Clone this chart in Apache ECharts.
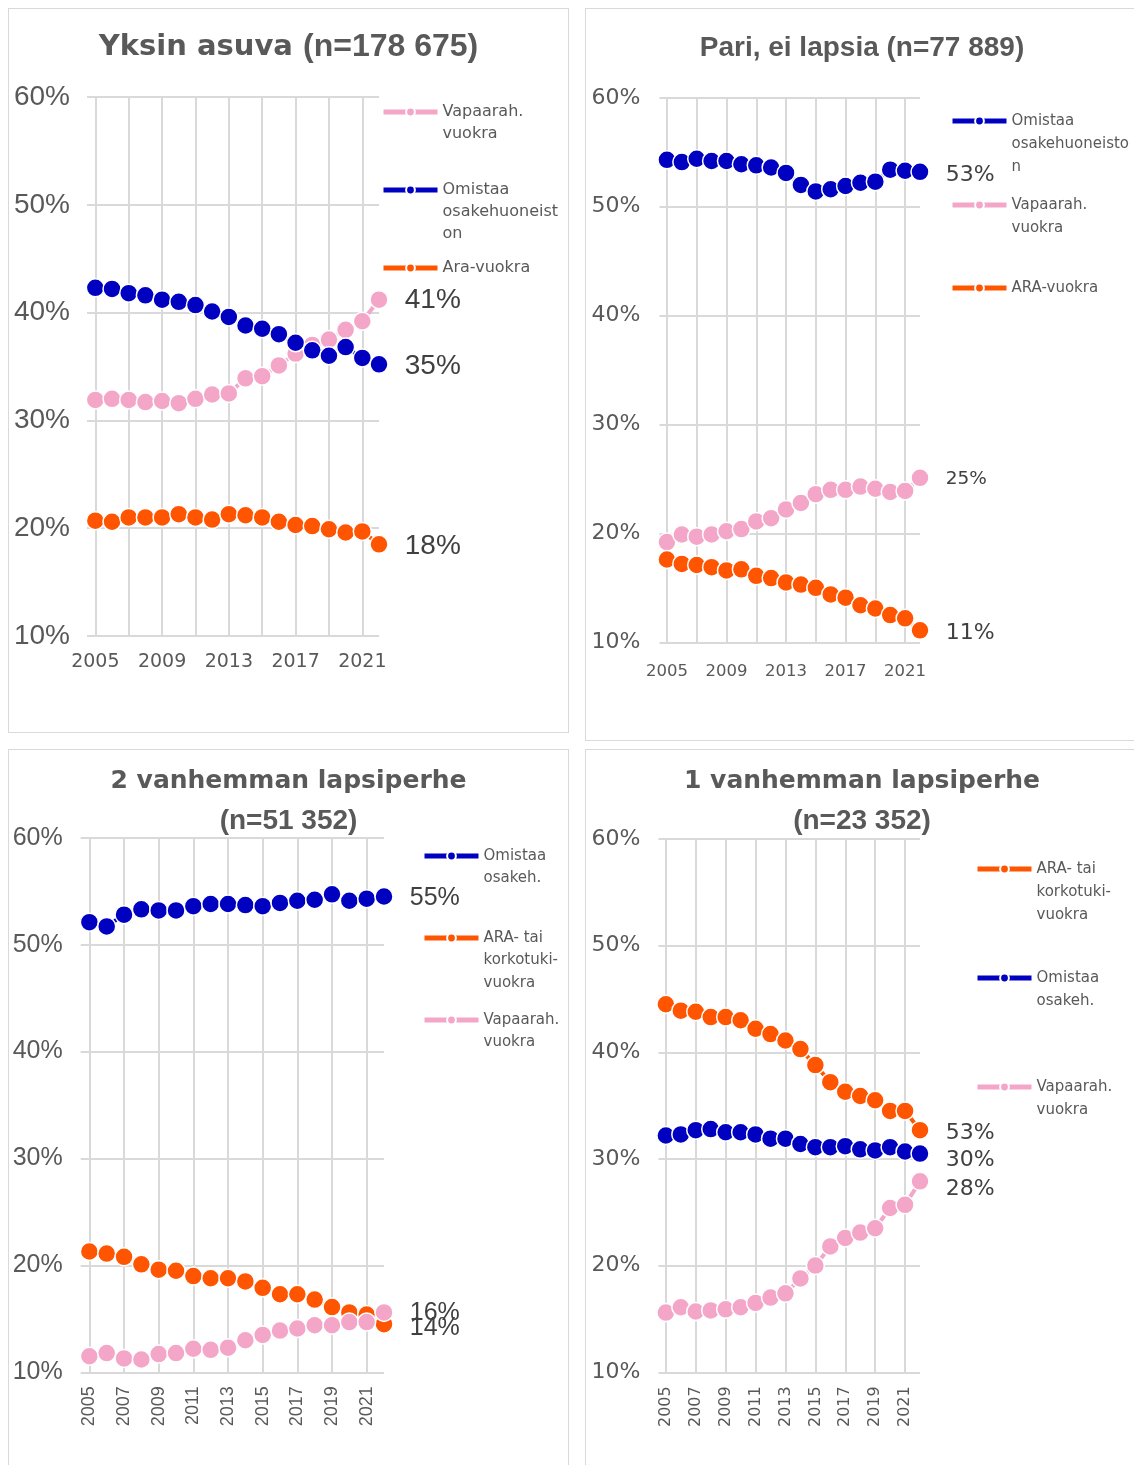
<!DOCTYPE html>
<html>
<head>
<meta charset="utf-8">
<script src="https://cdn.jsdelivr.net/npm/echarts@6/dist/echarts.min.js"></script>
<style>
  html, body { margin: 0; padding: 0; background: #fff; overflow: hidden; }
  body { width: 1134px; height: 1465px; position: relative; }
  .panel { position: absolute; outline: 1px solid #d9d9d9; outline-offset: -1px; }
</style>
</head>
<body>
<div id="p1" class="panel" style="left:8px;top:8px;width:561px;height:725px"></div>
<div id="p2" class="panel" style="left:585px;top:8px;width:554px;height:733px"></div>
<div id="p3" class="panel" style="left:8px;top:749px;width:561px;height:730px"></div>
<div id="p4" class="panel" style="left:585px;top:749px;width:554px;height:730px"></div>
<script>
// vuodet ja akselit
var years = [2005, 2006, 2007, 2008, 2009, 2010, 2011, 2012, 2013, 2014, 2015, 2016, 2017, 2018, 2019, 2020, 2021, 2022];
var gridYears = [2005, 2007, 2009, 2011, 2013, 2015, 2017, 2019, 2021];
var wideLabelYears = [2005, 2009, 2013, 2017, 2021];

// Yksin asuva
var p1Vapaa = [31.9, 32.0, 31.9, 31.7, 31.8, 31.6, 32.0, 32.4, 32.5, 33.9, 34.1, 35.1, 36.2, 37.0, 37.5, 38.4, 39.2, 41.2];
var p1Omistaa = [42.3, 42.2, 41.8, 41.6, 41.2, 41.0, 40.7, 40.1, 39.6, 38.8, 38.5, 38.0, 37.2, 36.5, 36.0, 36.8, 35.8, 35.2];
var p1Ara = [20.7, 20.6, 21.0, 21.0, 21.0, 21.3, 21.0, 20.8, 21.3, 21.2, 21.0, 20.6, 20.3, 20.2, 19.9, 19.6, 19.7, 18.5];
var p1Legend = ['Vapaarah.\nvuokra', 'Omistaa\nosakehuoneist\non', 'Ara-vuokra'];
var p1End = ['41%', '35%', '18%'];

// Pari, ei lapsia
var p2Omistaa = [54.3, 54.1, 54.4, 54.2, 54.2, 53.9, 53.8, 53.6, 53.1, 52.0, 51.4, 51.6, 51.9, 52.2, 52.3, 53.4, 53.3, 53.2];
var p2Vapaa = [19.2, 19.9, 19.7, 19.9, 20.2, 20.4, 21.1, 21.4, 22.2, 22.8, 23.6, 24.0, 24.0, 24.3, 24.1, 23.8, 23.9, 25.1];
var p2Ara = [17.6, 17.2, 17.1, 16.9, 16.6, 16.7, 16.1, 15.9, 15.5, 15.3, 15.0, 14.4, 14.1, 13.4, 13.1, 12.5, 12.2, 11.1];
var p2Legend = ['Omistaa\nosakehuoneisto\nn', 'Vapaarah.\nvuokra', 'ARA-vuokra'];
var p2End = ['53%', '25%', '11%'];

// 2 vanhemman lapsiperhe
var p3Omistaa = [52.1, 51.7, 52.8, 53.3, 53.2, 53.2, 53.6, 53.8, 53.8, 53.7, 53.6, 53.9, 54.1, 54.2, 54.7, 54.1, 54.3, 54.5];
var p3Ara = [21.3, 21.1, 20.8, 20.1, 19.6, 19.5, 19.0, 18.8, 18.8, 18.5, 17.9, 17.3, 17.3, 16.8, 16.1, 15.6, 15.4, 14.5];
var p3Vapaa = [11.5, 11.8, 11.3, 11.2, 11.7, 11.8, 12.2, 12.1, 12.3, 13.0, 13.5, 13.9, 14.1, 14.4, 14.4, 14.7, 14.7, 15.6];
var p3Legend = ['Omistaa\nosakeh.', 'ARA- tai\nkorkotuki-\nvuokra', 'Vapaarah.\nvuokra'];
var p3End = ['55%', '14%', '16%'];

// 1 vanhemman lapsiperhe
var p4Ara = [44.5, 43.9, 43.8, 43.3, 43.3, 43.0, 42.2, 41.7, 41.1, 40.3, 38.8, 37.2, 36.3, 35.9, 35.5, 34.5, 34.5, 32.7];
var p4Omistaa = [32.2, 32.3, 32.7, 32.8, 32.5, 32.5, 32.3, 31.9, 31.9, 31.4, 31.1, 31.1, 31.2, 30.9, 30.8, 31.1, 30.7, 30.5];
var p4Vapaa = [15.6, 16.1, 15.7, 15.8, 15.9, 16.1, 16.5, 17.0, 17.4, 18.8, 20.0, 21.8, 22.6, 23.1, 23.5, 25.4, 25.7, 27.9];
var p4Legend = ['ARA- tai\nkorkotuki-\nvuokra', 'Omistaa\nosakeh.', 'Vapaarah.\nvuokra'];
var p4End = ['53%', '30%', '28%'];

var BLUE = '#0000c0';
var PINK = '#f4a6c9';
var ORANGE = '#ff5500';
var GRAY = '#595959';
var GRID = '#d9d9d9';

var panels = [{
  id: 'p1',
  title: '{a|Yksin asuva }{b|(n=178 675)}',
  titleTop: 19,
  grid: { left: 79, top: 89, width: 292, height: 539 },
  labelYears: wideLabelYears, rotate: 0,
  yFont: ['Liberation Sans', 28], yMargin: 17,
  xFont: ['DejaVu Sans', 19], xMargin: 17,
  endFont: 'Liberation Sans',
  legend: { left: 373, iconY: [104, 182, 260], size: 16, lh: 22 },
  series: [
    { name: p1Legend[0], color: PINK, data: p1Vapaa, end: p1End[0], endSize: 28, offset: [0, 1] },
    { name: p1Legend[1], color: BLUE, data: p1Omistaa, end: p1End[1], endSize: 28, offset: [0, 2] },
    { name: p1Legend[2], color: ORANGE, data: p1Ara, end: p1End[2], endSize: 28, offset: [0, 2] }
  ]
}, {
  id: 'p2',
  title: '{b|Pari, ei lapsia (n=77 889)}',
  titleTop: 20,
  grid: { left: 74.5, top: 89.8, width: 260.5, height: 544.5 },
  labelYears: wideLabelYears, rotate: 0,
  yFont: ['DejaVu Sans', 22], yMargin: 19,
  xFont: ['DejaVu Sans', 16.5], xMargin: 21,
  endFont: 'DejaVu Sans',
  legend: { left: 365, iconY: [113, 197, 280], size: 15, lh: 23 },
  series: [
    { name: p2Legend[0], color: BLUE, data: p2Omistaa, end: p2End[0], endSize: 22, offset: [0, 3] },
    { name: p2Legend[1], color: PINK, data: p2Vapaa, end: p2End[1], endSize: 18.5, offset: [0, 1] },
    { name: p2Legend[2], color: ORANGE, data: p2Ara, end: p2End[2], endSize: 22, offset: [0, 3] }
  ]
}, {
  id: 'p3',
  title: '{a|2 vanhemman lapsiperhe}\n{b|(n=51 352)}',
  titleTop: 12,
  grid: { left: 72.7, top: 88.7, width: 303.3, height: 534.6 },
  labelYears: gridYears, rotate: 90,
  yFont: ['Liberation Sans', 25], yMargin: 18,
  xFont: ['Liberation Sans', 18], xMargin: 14,
  endFont: 'Liberation Sans',
  legend: { left: 414, iconY: [107, 189, 271], size: 15, lh: 22.5 },
  series: [
    { name: p3Legend[0], color: BLUE, data: p3Omistaa, end: p3End[0], endSize: 25, offset: [0, 2] },
    { name: p3Legend[1], color: ORANGE, data: p3Ara, end: p3End[1], endSize: 25, offset: [0, 4] },
    { name: p3Legend[2], color: PINK, data: p3Vapaa, end: p3End[2], endSize: 25, offset: [0, 1] }
  ]
}, {
  id: 'p4',
  title: '{a|1 vanhemman lapsiperhe}\n{b|(n=23 352)}',
  titleTop: 12,
  grid: { left: 73.4, top: 89.9, width: 261.6, height: 533.4 },
  labelYears: gridYears, rotate: 90,
  yFont: ['DejaVu Sans', 22], yMargin: 18,
  xFont: ['DejaVu Sans', 16], xMargin: 14,
  endFont: 'DejaVu Sans',
  legend: { left: 390, iconY: [120, 229, 338], size: 15, lh: 23 },
  series: [
    { name: p4Legend[0], color: ORANGE, data: p4Ara, end: p4End[0], endSize: 22, offset: [0, 3] },
    { name: p4Legend[1], color: BLUE, data: p4Omistaa, end: p4End[1], endSize: 22, offset: [0, 7] },
    { name: p4Legend[2], color: PINK, data: p4Vapaa, end: p4End[2], endSize: 22, offset: [0, 8] }
  ]
}];

function buildSeries(cfg, s, i) {
  var last = years.length - 1;
  var series = {
    type: 'line',
    name: s.name,
    z: 2,
    silent: true,
    symbol: 'circle',
    symbolSize: 18,
    lineStyle: { color: s.color, width: 4 },
    itemStyle: { color: s.color, borderColor: '#fff', borderWidth: 1.5 },
    label: { show: false },
    data: years.map(function (y, k) {
      if (k !== last) {
        return [y, s.data[k]];
      }
      return {
        value: [y, s.data[k]],
        label: {
          show: true,
          position: 'right',
          distance: 16,
          offset: s.offset,
          formatter: s.end,
          color: '#404040',
          fontFamily: cfg.endFont,
          fontSize: s.endSize
        }
      };
    })
  };
  // pystyviivat parittomille vuosille
  if (i === 0) {
    series.markLine = {
      silent: true,
      z: 1,
      symbol: 'none',
      animation: false,
      label: { show: false },
      lineStyle: { color: GRID, width: 2, type: 'solid' },
      emphasis: { disabled: true },
      data: gridYears.map(function (y) { return { xAxis: y }; })
    };
  }
  return series;
}

panels.forEach(function (cfg) {
  var chart = echarts.init(document.getElementById(cfg.id), null, { renderer: 'canvas' });

  // selite: ensimmäinen rivi kuvakkeen kohdalle
  var legends = cfg.series.map(function (s, i) {
    var lines = s.name.split('\n').length;
    return {
      data: [s.name],
      left: cfg.legend.left,
      top: cfg.legend.iconY[i] - (2 * lines - 1) * cfg.legend.lh / 2,
      orient: 'vertical',
      padding: 0,
      itemWidth: 54,
      itemHeight: 11,
      selectedMode: false,
      lineStyle: { width: 5 },
      formatter: function (name) {
        return new Array(lines).join('\n') + name;
      },
      textStyle: {
        fontFamily: 'DejaVu Sans',
        fontSize: cfg.legend.size,
        color: GRAY,
        lineHeight: cfg.legend.lh
      }
    };
  });

  chart.setOption({
    animation: false,
    title: {
      text: cfg.title,
      left: 'center',
      top: cfg.titleTop,
      padding: 0,
      textStyle: {
        color: GRAY,
        rich: {
          a: { fontFamily: 'DejaVu Sans', fontWeight: 'bold', fontSize: cfg.id === 'p1' ? 29 : 25, color: GRAY, lineHeight: 40 },
          b: { fontFamily: 'Liberation Sans', fontWeight: 'bold', fontSize: cfg.id === 'p1' ? 32 : 28, color: GRAY, lineHeight: 40 }
        }
      }
    },
    legend: legends,
    grid: cfg.grid,
    xAxis: {
      type: 'value',
      min: 2004.5,
      max: 2022,
      interval: 0.5,
      axisLine: { show: false },
      axisTick: { show: false },
      splitLine: { show: false },
      axisLabel: {
        rotate: cfg.rotate,
        margin: cfg.xMargin,
        color: GRAY,
        fontFamily: cfg.xFont[0],
        fontSize: cfg.xFont[1],
        formatter: function (v) {
          return cfg.labelYears.indexOf(v) >= 0 ? String(v) : '';
        }
      }
    },
    yAxis: {
      type: 'value',
      min: 10,
      max: 60,
      interval: 10,
      axisLine: { show: false },
      axisTick: { show: false },
      splitLine: { lineStyle: { color: GRID, width: 2 } },
      axisLabel: {
        margin: cfg.yMargin,
        color: GRAY,
        fontFamily: cfg.yFont[0],
        fontSize: cfg.yFont[1],
        formatter: '{value}%'
      }
    },
    series: cfg.series.map(function (s, i) { return buildSeries(cfg, s, i); })
  });
});
</script>
</body>
</html>
